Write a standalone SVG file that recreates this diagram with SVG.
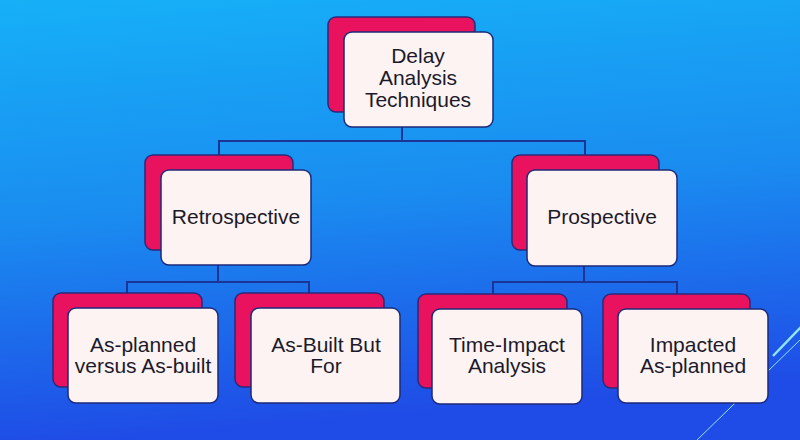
<svg xmlns="http://www.w3.org/2000/svg" width="800" height="440" viewBox="0 0 800 440">
<defs>
<linearGradient id="bg" x1="0" y1="0" x2="0.15" y2="1">
<stop offset="0" stop-color="#16b0f7"/>
<stop offset="0.5" stop-color="#1a8cf0"/>
<stop offset="1" stop-color="#1f4be6"/>
</linearGradient>
<style>
.back{fill:#e8125e;stroke:#2a2a7a;stroke-width:1.5}
.front{fill:#fdf3f3;stroke:#1c2a7a;stroke-width:1.5}
.lbl{font-family:"Liberation Sans","DejaVu Sans",sans-serif;font-size:21px;fill:#1c1a2a;text-anchor:middle}
.conn{stroke:#1a3596;stroke-width:2;fill:none}
.deco{stroke:#8fe6ff;fill:none}
</style>
</defs>
<rect x="0" y="0" width="800" height="440" fill="url(#bg)"/>
<g id="decor">
<line class="deco" x1="695" y1="442" x2="802" y2="338" stroke-width="1"/>
<line class="deco" x1="773" y1="356" x2="802" y2="326" stroke-width="2.5"/>
</g>
<g id="connectors">
<polyline class="conn" points="402,127 402,141"/>
<polyline class="conn" points="219,155 219,141 585,141 585,155"/>
<polyline class="conn" points="218,265 218,282"/>
<polyline class="conn" points="127,293 127,282 309,282 309,293"/>
<polyline class="conn" points="584,266 584,282"/>
<polyline class="conn" points="493,294 493,282 677,282 677,294"/>
</g>
<g id="n-root">
<rect class="back" x="328" y="17" width="147" height="95" rx="8"/>
<rect class="front" x="344" y="32" width="149" height="95" rx="8"/>
<text class="lbl" x="418" y="63">Delay</text>
<text class="lbl" x="418" y="85">Analysis</text>
<text class="lbl" x="418" y="107">Techniques</text>
</g>
<g id="n-retro">
<rect class="back" x="145" y="155" width="148" height="95" rx="8"/>
<rect class="front" x="161" y="170" width="150" height="95" rx="8"/>
<text class="lbl" x="236" y="224">Retrospective</text>
</g>
<g id="n-prosp">
<rect class="back" x="512" y="155" width="147" height="95" rx="8"/>
<rect class="front" x="527" y="170" width="150" height="96" rx="8"/>
<text class="lbl" x="602" y="224">Prospective</text>
</g>
<g id="n-apab">
<rect class="back" x="53" y="293" width="149" height="94" rx="8"/>
<rect class="front" x="68" y="308" width="150" height="95" rx="8"/>
<text class="lbl" x="143" y="352">As-planned</text>
<text class="lbl" x="143" y="373">versus As-built</text>
</g>
<g id="n-abbf">
<rect class="back" x="235" y="293" width="149" height="94" rx="8"/>
<rect class="front" x="251" y="308" width="149" height="95" rx="8"/>
<text class="lbl" x="326" y="352">As-Built But</text>
<text class="lbl" x="326" y="373">For</text>
</g>
<g id="n-tia">
<rect class="back" x="418" y="294" width="149" height="94" rx="8"/>
<rect class="front" x="432" y="309" width="150" height="95" rx="8"/>
<text class="lbl" x="507" y="352">Time-Impact</text>
<text class="lbl" x="507" y="373">Analysis</text>
</g>
<g id="n-iap">
<rect class="back" x="603" y="294" width="147" height="94" rx="8"/>
<rect class="front" x="618" y="309" width="150" height="94" rx="8"/>
<text class="lbl" x="693" y="352">Impacted</text>
<text class="lbl" x="693" y="373">As-planned</text>
</g>
</svg>
